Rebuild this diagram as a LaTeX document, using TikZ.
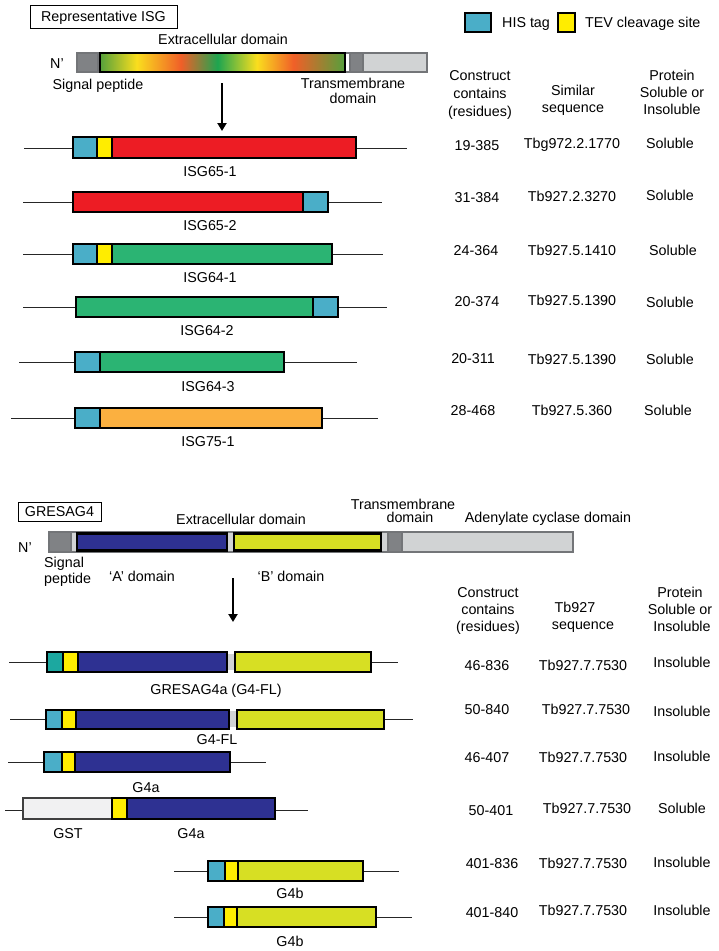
\documentclass[tikz,border=0pt]{standalone}
\usepackage{fontspec}
\setmainfont{Liberation Sans}
\usetikzlibrary{arrows.meta}
\definecolor{histag}{RGB}{74,174,200}
\definecolor{histeal}{RGB}{28,168,160}
\definecolor{tev}{RGB}{255,237,0}
\definecolor{isgred}{RGB}{237,28,36}
\definecolor{isggreen}{RGB}{43,180,115}
\definecolor{isgorange}{RGB}{251,176,64}
\definecolor{adom}{RGB}{46,49,146}
\definecolor{bdom}{RGB}{215,223,35}
\definecolor{lgray}{RGB}{209,211,212}
\definecolor{dgray}{RGB}{128,130,133}
\definecolor{bgray}{RGB}{115,117,120}
\definecolor{gstgray}{RGB}{241,241,242}
\definecolor{gA}{RGB}{85,160,60}
\definecolor{gB}{RGB}{30,165,80}
\definecolor{yA}{RGB}{250,222,30}
\definecolor{oA}{RGB}{240,95,40}
\pgfdeclarehorizontalshading{isggrad}{100bp}{color(0bp)=(gA); color(25bp)=(gA); color(32.5bp)=(yA); color(41.5bp)=(oA); color(49bp)=(gB); color(57bp)=(yA); color(64.5bp)=(oA); color(75bp)=(gA); color(100bp)=(gA)}
\tikzset{
 txt/.style={inner sep=0pt, font=\fontsize{14.3}{17}\selectfont, text height=10.2pt, text depth=0pt},
 conn/.style={draw=black!85, line width=1pt},
 seg/.style={draw=black, line width=2.4pt, line join=miter},
 gbar/.style={draw=bgray, line width=2pt, fill=lgray},
 gdark/.style={draw=bgray, line width=2pt, fill=dgray},
 arr/.style={draw=black, line width=2pt, -{Triangle[length=8pt,width=9pt]}},
 titlebox/.style={txt, draw=black, line width=0.9pt},
}
\begin{document}
\begin{tikzpicture}[x=1pt,y=-1pt]
\useasboundingbox (0,0) rectangle (718,951);
\fill[white] (0,0) rectangle (718,951);

% ===== Section 1: Representative ISG =====
\node[titlebox, minimum width=147pt, minimum height=23pt] (isgtitle) at (103.5,16.5) {Representative ISG};
\filldraw[seg, fill=histag] (465,13) rectangle (491,32);
\node[txt, anchor=west] (lhis) at (502,22) {HIS tag};
\filldraw[seg, fill=tev] (558,13) rectangle (575,32);
\node[txt, anchor=west] (ltev) at (585,22) {TEV cleavage site};

\node[txt] (ecd1) at (223,39.5) {Extracellular domain};
\node[txt] (nterm1) at (57,63) {N’};
\filldraw[gbar] (77,53) rectangle (427,72);
\filldraw[gdark] (77,53) rectangle (98,72);
\fill[white] (98.8,54) rectangle (100,71);
\shade[shading=isggrad] (100,53) rectangle (345,72);
\draw[seg] (100,53) rectangle (345,72);
\fill[white] (346.2,54) rectangle (349,71);
\filldraw[gdark] (350,53) rectangle (363,72);
\node[txt] (sp1) at (98,84) {Signal peptide};
\node[txt] (tm1a) at (353,83) {Transmembrane};
\node[txt] (tm1b) at (353,98) {domain};
\coordinate (arr1s) at (222,83);
\coordinate (arr1e) at (222,131);
\draw[arr] (arr1s) -- (arr1e);

\node[txt] (h1a) at (480,75) {Construct};
\node[txt] (h1b) at (480,93) {contains};
\node[txt] (h1c) at (480,111) {(residues)};
\node[txt] (h2a) at (573,90) {Similar};
\node[txt] (h2b) at (573,107) {sequence};
\node[txt] (h3a) at (672,75) {Protein};
\node[txt] (h3b) at (672,92) {Soluble or};
\node[txt] (h3c) at (672,109) {Insoluble};

% ISG65-1
\coordinate (r1l) at (24,148); \coordinate (r1r) at (407,148);
\draw[conn] (r1l) -- (r1r);
\filldraw[seg, fill=isgred] (112,137) rectangle (356,158);
\filldraw[seg, fill=histag] (73,137) rectangle (97,158);
\filldraw[seg, fill=tev] (97,137) rectangle (112,158);
\node[txt] (n1) at (210,171) {ISG65-1};
% ISG65-2
\coordinate (r2l) at (23,202); \coordinate (r2r) at (382,202);
\draw[conn] (r2l) -- (r2r);
\filldraw[seg, fill=isgred] (73,192) rectangle (303,212);
\filldraw[seg, fill=histag] (303,192) rectangle (328,212);
\node[txt] (n2) at (210,225) {ISG65-2};
% ISG64-1
\coordinate (r3l) at (23,254); \coordinate (r3r) at (383,254);
\draw[conn] (r3l) -- (r3r);
\filldraw[seg, fill=isggreen] (112,244) rectangle (332,264);
\filldraw[seg, fill=histag] (73,244) rectangle (97,264);
\filldraw[seg, fill=tev] (97,244) rectangle (112,264);
\node[txt] (n3) at (210,277) {ISG64-1};
% ISG64-2
\coordinate (r4l) at (23,307); \coordinate (r4r) at (387,307);
\draw[conn] (r4l) -- (r4r);
\filldraw[seg, fill=isggreen] (76,297) rectangle (313,317);
\filldraw[seg, fill=histag] (313,297) rectangle (338,317);
\node[txt] (n4) at (207,330) {ISG64-2};
% ISG64-3
\coordinate (r5l) at (19,362); \coordinate (r5r) at (357,362);
\draw[conn] (r5l) -- (r5r);
\filldraw[seg, fill=isggreen] (100,352) rectangle (284,372);
\filldraw[seg, fill=histag] (75,352) rectangle (100,372);
\node[txt] (n5) at (208,386) {ISG64-3};
% ISG75-1
\coordinate (r6l) at (11,418); \coordinate (r6r) at (378,418);
\draw[conn] (r6l) -- (r6r);
\filldraw[seg, fill=isgorange] (100,408) rectangle (322,428);
\filldraw[seg, fill=histag] (75,408) rectangle (100,428);
\node[txt] (n6) at (208,441) {ISG75-1};

% table 1
\node[txt] (c11) at (477,145) {19-385};
\node[txt] (c12) at (572,143) {Tbg972.2.1770};
\node[txt] (c13) at (670,143) {Soluble};
\node[txt] (c21) at (477,197) {31-384};
\node[txt] (c22) at (572,196) {Tb927.2.3270};
\node[txt] (c23) at (670,195) {Soluble};
\node[txt] (c31) at (476,250) {24-364};
\node[txt] (c32) at (572,250) {Tb927.5.1410};
\node[txt] (c33) at (673,250) {Soluble};
\node[txt] (c41) at (477,301) {20-374};
\node[txt] (c42) at (572,300) {Tb927.5.1390};
\node[txt] (c43) at (670,302) {Soluble};
\node[txt] (c51) at (473,358) {20-311};
\node[txt] (c52) at (572,359) {Tb927.5.1390};
\node[txt] (c53) at (670,359) {Soluble};
\node[txt] (c61) at (473,410) {28-468};
\node[txt] (c62) at (572,410) {Tb927.5.360};
\node[txt] (c63) at (668,410) {Soluble};

% ===== Section 2: GRESAG4 =====
\node[titlebox, minimum width=83pt, minimum height=19pt] (g4title) at (59.5,511.5) {GRESAG4};
\node[txt] (ecd2) at (241,519) {Extracellular domain};
\node[txt] (tm2a) at (403,504) {Transmembrane};
\node[txt] (tm2b) at (410,517) {domain};
\node[txt] (acd) at (548,517) {Adenylate cyclase domain};
\node[txt] (nterm2) at (25,547) {N’};
\filldraw[gbar] (49,532) rectangle (573,552);
\filldraw[gdark] (49,532) rectangle (71,552);
\filldraw[seg, fill=adom] (77,533.5) rectangle (227,550.5);
\filldraw[seg, fill=bdom] (234,533.5) rectangle (381,550.5);
\filldraw[gdark] (388,532) rectangle (402,552);
\node[txt, anchor=west] (sp2a) at (44,562) {Signal};
\node[txt, anchor=west] (sp2b) at (44,578) {peptide};
\node[txt] (adl) at (142,576) {‘A’ domain};
\node[txt] (bdl) at (291,576) {‘B’ domain};
\coordinate (arr2s) at (233,578);
\coordinate (arr2e) at (233,622);
\draw[arr] (arr2s) -- (arr2e);

\node[txt] (k1a) at (488,592) {Construct};
\node[txt] (k1b) at (488,609) {contains};
\node[txt] (k1c) at (488,626) {(residues)};
\node[txt] (k2a) at (575,607) {Tb927};
\node[txt] (k2b) at (583,624) {sequence};
\node[txt] (k3a) at (680,592) {Protein};
\node[txt] (k3b) at (680,609) {Soluble or};
\node[txt] (k3c) at (682,626) {Insoluble};

% GRESAG4a (G4-FL)
\coordinate (s1l) at (9,662); \coordinate (s1r) at (398,662);
\draw[conn] (s1l) -- (s1r);
\fill[lgray] (227,654) rectangle (235,670);
\filldraw[seg, fill=adom] (78,652) rectangle (227,672);
\filldraw[seg, fill=histeal] (47,652) rectangle (63,672);
\filldraw[seg, fill=tev] (63,652) rectangle (78,672);
\filldraw[seg, fill=bdom] (235,652) rectangle (371,672);
\node[txt] (m1) at (216,689) {GRESAG4a (G4-FL)};
% G4-FL
\coordinate (s2l) at (10,719); \coordinate (s2r) at (413,719);
\draw[conn] (s2l) -- (s2r);
\fill[lgray] (229,711) rectangle (237,727);
\filldraw[seg, fill=adom] (76,710) rectangle (229,729);
\filldraw[seg, fill=histag] (46,710) rectangle (62,729);
\filldraw[seg, fill=tev] (62,710) rectangle (76,729);
\filldraw[seg, fill=bdom] (237,710) rectangle (384,729);
\node[txt] (m2) at (217,739) {G4-FL};
% G4a
\coordinate (s3l) at (8,762); \coordinate (s3r) at (266,762);
\draw[conn] (s3l) -- (s3r);
\filldraw[seg, fill=adom] (75,752) rectangle (230,772);
\filldraw[seg, fill=histag] (44,752) rectangle (62,772);
\filldraw[seg, fill=tev] (62,752) rectangle (75,772);
\node[txt] (m3) at (146,787) {G4a};
% GST-G4a
\coordinate (s4l) at (5,810); \coordinate (s4r) at (308,810);
\draw[conn] (s4l) -- (s4r);
\filldraw[seg, fill=adom] (127,798) rectangle (275,819);
\filldraw[seg, draw=black!75, fill=gstgray] (23,798) rectangle (112,819);
\filldraw[seg, fill=tev] (112,798) rectangle (127,819);
\node[txt] (m4a) at (68,833) {GST};
\node[txt] (m4b) at (191,833) {G4a};
% G4b (1)
\coordinate (s5l) at (174,871); \coordinate (s5r) at (399,871);
\draw[conn] (s5l) -- (s5r);
\filldraw[seg, fill=bdom] (238,861) rectangle (363,881);
\filldraw[seg, fill=histag] (208,861) rectangle (225,881);
\filldraw[seg, fill=tev] (225,861) rectangle (238,881);
\node[txt] (m5) at (290,893) {G4b};
% G4b (2)
\coordinate (s6l) at (174,917); \coordinate (s6r) at (412,917);
\draw[conn] (s6l) -- (s6r);
\filldraw[seg, fill=bdom] (237,907) rectangle (376,927);
\filldraw[seg, fill=histag] (208,907) rectangle (224,927);
\filldraw[seg, fill=tev] (224,907) rectangle (237,927);
\node[txt] (m6) at (290,941) {G4b};

% table 2
\node[txt] (d11) at (487,665) {46-836};
\node[txt] (d12) at (583,665) {Tb927.7.7530};
\node[txt] (d13) at (682,662) {Insoluble};
\node[txt] (d21) at (487,709) {50-840};
\node[txt] (d22) at (586,709) {Tb927.7.7530};
\node[txt] (d23) at (682,711) {Insoluble};
\node[txt] (d31) at (487,757) {46-407};
\node[txt] (d32) at (583,757) {Tb927.7.7530};
\node[txt] (d33) at (682,756) {Insoluble};
\node[txt] (d41) at (491,810) {50-401};
\node[txt] (d42) at (587,808) {Tb927.7.7530};
\node[txt] (d43) at (682,808) {Soluble};
\node[txt] (d51) at (492,863) {401-836};
\node[txt] (d52) at (583,863) {Tb927.7.7530};
\node[txt] (d53) at (682,862) {Insoluble};
\node[txt] (d61) at (492,912) {401-840};
\node[txt] (d62) at (583,910) {Tb927.7.7530};
\node[txt] (d63) at (682,910) {Insoluble};
\end{tikzpicture}
\end{document}
